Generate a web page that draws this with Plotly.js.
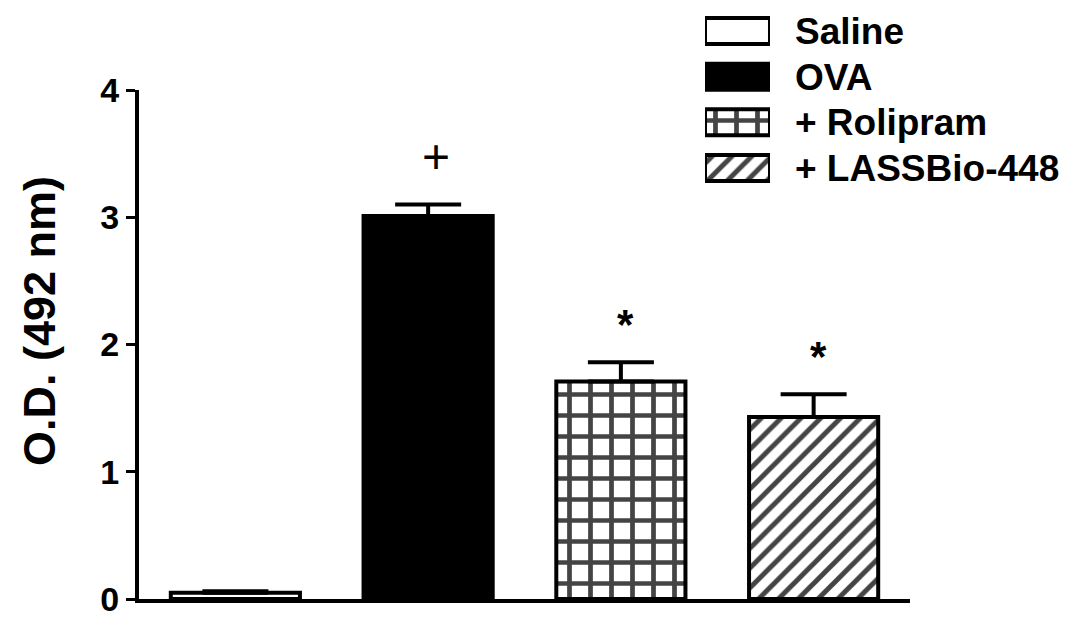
<!DOCTYPE html>
<html>
<head>
<meta charset="utf-8">
<script src="https://cdn.plot.ly/plotly-3.0.1.min.js"></script>
<style>html,body{margin:0;padding:0;background:#fff;}#chart{width:1090px;height:617px;}</style>
</head>
<body>
<div id="chart"></div>
<script>
// ---- data ----
const categories = ['Saline', 'OVA', '+ Rolipram', '+ LASSBio-448'];
const means = [0.05, 3.01, 1.71, 1.43];
const sems = [0.01, 0.09, 0.15, 0.18];
const sigMarks = ['', '+', '*', '*'];
const yTicks = [0, 1, 2, 3, 4];

// ---- styles ----
const fillColors = ['white', 'black', 'white', 'white'];
const lineColors = ['black', 'black', 'black', 'black'];
const patternShapes = ['', '', '+', '/'];
const patternSizes = [21, 21, 21, 14];
const patternSolidity = [0.4, 0.4, 0.4, 0.36];
const FONT = 'Liberation Sans, Arial, Helvetica, sans-serif';

function barMarker() {
  return {
    color: fillColors,
    line: {color: 'black', width: 4},
    pattern: {shape: patternShapes, fgcolor: lineColors, bgcolor: fillColors, fgopacity: 1,
              size: patternSizes, solidity: patternSolidity, fillmode: 'overlay'}
  };
}

const mainBars = {
  type: 'bar',
  x: categories,
  y: means,
  width: 0.67,
  marker: barMarker(),
  error_y: {type: 'data', symmetric: false, array: sems, arrayminus: sems.map(() => 0), color: 'black', thickness: 4, width: 33},
  showlegend: false,
  hoverinfo: 'x+y'
};

const legendBoxes = {
  type: 'bar',
  orientation: 'h',
  y: categories,
  x: categories.map(() => 1),
  width: 0.57,
  xaxis: 'x2',
  yaxis: 'y2',
  marker: barMarker(),
  showlegend: false,
  hoverinfo: 'y'
};

const annotations = categories.map((c, i) => ({
  x: c, y: means[i] + sems[i], xref: 'x', yref: 'y',
  text: sigMarks[i], showarrow: false, yanchor: 'bottom',
  yshift: sigMarks[i] === '+' ? 20 : 12, xshift: sigMarks[i] === '+' ? 8 : 5,
  font: sigMarks[i] === '+' ? {family: FONT, size: 48, color: 'black', weight: 'normal'}
                            : {family: FONT, size: 42, color: 'black', weight: 'bold'}
})).filter(a => a.text !== '');

annotations.push({
  xref: 'paper', yref: 'paper', x: -0.1297, y: 0.468, xanchor: 'center', yanchor: 'middle',
  text: 'O.D. (492 nm)', textangle: -90, showarrow: false,
  font: {family: FONT, size: 45, color: 'black', weight: 'bold'}
});

const layout = {
  width: 1090, height: 617,
  margin: {l: 139, r: 180, t: 5, b: 18},
  paper_bgcolor: 'white', plot_bgcolor: 'white',
  xaxis: {
    type: 'category', categoryarray: categories, range: [-0.5, 3.5],
    showline: true, linecolor: 'black', linewidth: 4, showticklabels: false, ticks: '',
    showgrid: false, zeroline: false, fixedrange: true
  },
  yaxis: {
    domain: [0, 0.8569], range: [0, 4], tickvals: yTicks, ticktext: yTicks.map(String),
    showline: true, linecolor: 'black', linewidth: 4, ticks: 'outside', ticklen: 9, tickwidth: 3, tickcolor: 'black',
    tickfont: {family: FONT, size: 34, color: 'black', weight: 'bold'},
    ticklabeloverflow: 'allow',
    showgrid: false, zeroline: false, fixedrange: true
  },
  xaxis2: {
    domain: [0.7341, 0.8184], range: [0, 1], anchor: 'y2',
    visible: false, fixedrange: true
  },
  yaxis2: {
    domain: [0.6717, 1], range: [3.70, -0.569], anchor: 'x2', side: 'right',
    type: 'category', categoryarray: categories,
    showline: false, showgrid: false, zeroline: false, ticks: '',
    ticklabelstandoff: 24,
    tickfont: {family: FONT, size: 37, color: 'black', weight: 'bold'},
    fixedrange: true
  },
  annotations: annotations
};

Plotly.newPlot('chart', [mainBars, legendBoxes], layout, {displayModeBar: false, staticPlot: true});
</script>
</body>
</html>
